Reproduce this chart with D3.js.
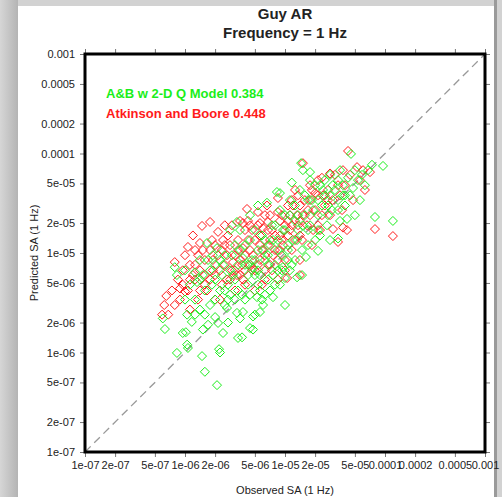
<!DOCTYPE html>
<html>
<head>
<meta charset="utf-8">
<script src="https://cdn.jsdelivr.net/npm/d3@7"></script>
<style>
body{margin:0;padding:0;overflow:hidden;}
svg{display:block;font-family:"Liberation Sans",Arial,sans-serif;}
</style>
</head>
<body>
<div id="plot"></div>
<script>
// tick values and labels for both log axes
var tickValues = [1e-7,2e-7,5e-7,1e-6,2e-6,5e-6,1e-5,2e-5,5e-5,1e-4,2e-4,5e-4,1e-3];
var tickLabels = ['1e-07','2e-07','5e-07','1e-06','2e-06','5e-06','1e-05','2e-05','5e-05','0.0001','0.0002','0.0005','0.001'];

var seriesNames = ['A&B w 2-D Q Model 0.384','Atkinson and Boore 0.448'];

// [observed, predicted] - Atkinson and Boore (red)
var redPoints = [
[5.9e-7,2.4e-6],[6.2e-7,3.0e-6],[6.8e-7,2.4e-6],[6.5e-7,3.7e-6],[7.4e-7,4.2e-6],[7.9e-7,3.0e-6],
[7.9e-7,8.1e-6],[8.5e-7,5.4e-6],[8.9e-7,4.4e-6],[8.9e-7,3.4e-6],[9.5e-7,6.7e-6],[1.0e-6,4.1e-6],
[1.0e-6,9.5e-6],[1.07e-6,1.15e-5],[1.12e-6,5.4e-6],[1.12e-6,2.7e-6],[1.2e-6,1.5e-5],[1.26e-6,7.6e-6],
[1.26e-6,1.07e-5],[1.35e-6,3.4e-6],[1.41e-6,1.26e-5],[1.41e-6,4.2e-6],[1.48e-6,1.87e-5],[1.58e-6,6.0e-6],
[1.58e-6,8.5e-6],[1.66e-6,4.2e-6],[1.78e-6,2.05e-5],[1.78e-6,1.07e-5],[1.78e-6,5.4e-6],[1.9e-6,8.5e-6],
[2.0e-6,3.4e-6],[2.0e-6,1.2e-5],[2.14e-6,1.63e-5],[2.24e-6,6.7e-6],[2.24e-6,3.4e-6],[2.34e-6,4.8e-6],
[2.5e-6,1.9e-5],[2.5e-6,7.6e-6],[2.63e-6,9.5e-6],[2.82e-6,1.2e-5],[2.82e-6,5.4e-6],[2.95e-6,6.7e-6],
[3.16e-6,4.2e-6],[3.16e-6,9.5e-6],[3.39e-6,1.35e-5],[3.55e-6,8.5e-6],[3.55e-6,6.0e-6],[3.8e-6,5.4e-6],
[3.98e-6,1.7e-5],[3.98e-6,6.7e-6],[4.17e-6,2.77e-5],[4.47e-6,1.07e-5],[4.68e-6,6.7e-6],[5.0e-6,1.35e-5],
[5.0e-6,4.2e-6],[5.37e-6,1.9e-5],[5.62e-6,8.5e-6],[5.62e-6,1.2e-5],[5.89e-6,4.8e-6],[6.3e-6,2.4e-5],
[6.3e-6,5.4e-6],[6.6e-6,3.0e-5],[6.76e-6,1.2e-5],[7.08e-6,7.6e-6],[7.08e-6,1.35e-5],[7.41e-6,1.7e-5],
[7.94e-6,1.07e-5],[7.94e-6,1.5e-5],[8.5e-6,3.57e-5],[8.9e-6,2.1e-5],[8.9e-6,1.07e-5],[9.3e-6,1.35e-5],
[1.0e-5,8.5e-6],[1.0e-5,1.9e-5],[1.0e-5,6.7e-6],[1.05e-5,5.6e-6],[1.07e-5,3.0e-5],[1.12e-5,1.7e-5],
[1.12e-5,2.4e-5],[1.17e-5,1.07e-5],[1.26e-5,4.3e-5],[1.26e-5,1.35e-5],[1.32e-5,2.4e-5],[1.41e-5,6.0e-6],
[1.41e-5,1.5e-5],[1.41e-5,3.0e-5],[1.51e-5,8.0e-5],[1.58e-5,3.4e-5],[1.66e-5,1.9e-5],[1.78e-5,4.8e-5],
[1.78e-5,3.4e-5],[1.86e-5,1.2e-5],[2.0e-5,2.7e-5],[2.14e-5,3.8e-5],[2.24e-5,1.7e-5],[2.34e-5,5.7e-5],
[2.5e-5,3.0e-5],[2.69e-5,4.3e-5],[2.82e-5,2.4e-5],[3.02e-5,1.74e-5],[3.16e-5,6.1e-5],[3.39e-5,1.29e-5],
[3.55e-5,3.8e-5],[3.72e-5,2.7e-5],[3.98e-5,4.8e-5],[4.17e-5,1.7e-5],[4.27e-5,1.06e-4],[4.47e-5,6.1e-5],
[4.79e-5,3.4e-5],[5.25e-5,7.3e-5],[5.62e-5,5.4e-5],[6.03e-5,6.8e-5],[6.3e-5,4.3e-5],[7.08e-5,6.5e-5],
[7.94e-5,1.74e-5],[1.2e-4,1.48e-5],[2.0e-6,6.0e-6],[4.47e-6,7.6e-6],[5.62e-6,1.5e-5],[8.9e-6,1.5e-5],
[1.41e-5,2.1e-5],[1.78e-5,2.4e-5],[2.5e-6,1.2e-5],[3.16e-6,6.7e-6],[3.98e-6,9.5e-6],[5.0e-6,6.7e-6],
[6.3e-6,9.5e-6],[1.26e-6,5.4e-6],[1.41e-6,6.7e-6],[3.55e-6,2.1e-5],[4.47e-6,1.9e-5],[7.08e-6,2.4e-5],
[1.17e-5,3.4e-5],[8.5e-6,2.58e-5],[5.62e-6,2.0e-5],[3.8e-6,2.0e-5],[2.82e-5,6.3e-5],[2.0e-5,4.0e-5],
[3.8e-5,1.8e-5],[1.41e-5,8.5e-6],[2.14e-6,9.5e-6],[2.69e-6,1.5e-5],[3.39e-6,1.07e-5],[4.27e-6,1.35e-5],
[5.37e-6,7.6e-6],[6.76e-6,1.7e-5],[8.5e-6,8.5e-6],[1.07e-5,1.5e-5],[1.35e-5,1.9e-5],[1.7e-5,2.7e-5],
[2.14e-5,1.9e-5],[2.69e-5,3.4e-5],[3.39e-5,4.8e-5],[1.86e-6,1.35e-5],[2.34e-6,1.07e-5],[2.95e-6,1.9e-5],
[3.72e-6,7.6e-6],[4.68e-6,1.7e-5],[5.89e-6,1.07e-5],[7.41e-6,6.7e-6],[9.3e-6,2.4e-5],[1.17e-5,1.9e-5],
[1.48e-5,1.35e-5],[1.86e-5,4.3e-5],[2.34e-5,2.4e-5],[1.12e-6,7.6e-6],[1.35e-6,9.5e-6],[1.07e-6,4.2e-6],
[1.58e-6,4.8e-6],[3.02e-6,8.1e-6],[3.8e-6,1.12e-5],[4.79e-6,9.5e-6],[6.03e-6,1.78e-5],[7.59e-6,9.5e-6],
[9.55e-6,1.2e-5],[1.2e-5,3.0e-5],[1.51e-5,2.4e-5],[1.91e-5,1.7e-5],[2.4e-5,3.8e-5],[3.0e-5,3.4e-5],
[3.8e-5,6.8e-5],[2.4e-6,1.35e-5],[1.9e-6,6.7e-6],[1.51e-6,1.07e-5],[1.2e-6,6.0e-6],[9.5e-7,4.8e-6],
[4.27e-6,2.1e-5],[5.37e-6,2.58e-5],[6.76e-6,2.05e-5],[1.07e-5,2.1e-5],[1.35e-5,3.8e-5],[2.14e-5,5.4e-5],
[3.98e-6,4.8e-6],[6.3e-6,6.7e-6],[8.5e-6,5.4e-6],[3.31e-6,6.0e-6],[2.63e-6,5.4e-6]
];

// [observed, predicted] - A&B w 2-D Q model (green)
var greenPoints = [
[6.0e-7,2.2e-6],[6.3e-7,1.72e-6],[7.9e-7,7.2e-6],[8.3e-7,6.0e-6],[8.3e-7,9.9e-7],[9.5e-7,1.57e-6],
[1.02e-6,1.6e-6],[1.05e-6,1.2e-6],[1.07e-6,1.11e-6],[1.48e-6,9.2e-7],[1.58e-6,6.4e-7],[2.09e-6,4.7e-7],
[2.19e-6,1.08e-6],[2.24e-6,1.0e-6],[2.4e-6,1.57e-6],[1.51e-6,1.7e-6],[1.17e-6,2.03e-6],[1.26e-6,2.4e-6],
[1.05e-6,2.4e-6],[1.58e-6,2.4e-6],[1.7e-6,1.9e-6],[2.0e-6,2.27e-6],[2.14e-6,1.98e-6],[2.69e-6,2.0e-6],
[2.63e-6,2.8e-6],[3.39e-6,1.4e-6],[5.25e-6,3.6e-6],[7.59e-6,3.6e-6],[1.0e-5,3.0e-6],[6.03e-6,3.0e-6],
[5.62e-6,2.55e-6],[5.0e-6,2.4e-6],[3.8e-6,2.55e-6],[3.55e-6,2.2e-6],[3.31e-6,2.5e-6],[4.79e-6,2.3e-6],
[4.47e-6,1.76e-6],[4.79e-6,1.7e-6],[3.72e-6,1.42e-6],[1.32e-5,5.7e-6],[1.48e-5,6.0e-6],[1.62e-5,9.1e-6],
[2.14e-5,1.05e-5],[1.0e-5,5.6e-6],[9.3e-6,6.7e-6],[7.59e-6,6.0e-6],[9.5e-6,7.2e-6],[1.0e-6,6.7e-6],
[1.26e-6,6.4e-6],[1.12e-6,4.8e-6],[1.32e-6,5.1e-6],[1.66e-6,1.26e-5],[2.09e-6,1.12e-5],[1.7e-6,8.5e-6],
[1.45e-5,8.0e-5],[1.51e-5,6.8e-5],[4.57e-5,9.9e-5],[7.41e-5,7.7e-5],[9.55e-5,7.5e-5],[6.76e-5,6.8e-5],
[7.94e-5,2.3e-5],[1.2e-4,2.1e-5],[3.55e-5,2.1e-5],[4.17e-5,2.2e-5],[3.39e-5,1.4e-5],[8.3e-6,4.1e-5],
[1.17e-5,5.1e-5],[1.41e-6,8.5e-6],[1.58e-6,4.2e-6],[1.78e-6,6.7e-6],[2.0e-6,5.4e-6],[2.24e-6,8.5e-6],
[2.5e-6,4.2e-6],[2.82e-6,6.7e-6],[2.95e-6,9.5e-6],[3.16e-6,5.4e-6],[3.55e-6,1.07e-5],[3.72e-6,3.8e-6],
[3.98e-6,7.6e-6],[4.27e-6,4.8e-6],[4.47e-6,1.35e-5],[4.68e-6,8.5e-6],[5.0e-6,6.0e-6],[5.37e-6,1.07e-5],
[5.62e-6,4.2e-6],[5.89e-6,1.5e-5],[6.3e-6,8.5e-6],[6.76e-6,5.4e-6],[7.08e-6,1.2e-5],[7.41e-6,1.9e-5],
[7.94e-6,7.6e-6],[8.5e-6,1.35e-5],[8.9e-6,2.7e-5],[9.3e-6,9.5e-6],[1.0e-5,1.7e-5],[1.07e-5,1.2e-5],
[1.12e-5,3.4e-5],[1.17e-5,7.6e-6],[1.26e-5,2.1e-5],[1.32e-5,1.35e-5],[1.41e-5,4.3e-5],[1.48e-5,1.07e-5],
[1.58e-5,2.4e-5],[1.7e-5,1.7e-5],[1.78e-5,5.4e-5],[1.86e-5,3.4e-5],[2.0e-5,1.35e-5],[2.14e-5,2.4e-5],
[2.24e-5,4.8e-5],[2.34e-5,3.0e-5],[2.5e-5,3.8e-5],[2.63e-5,1.9e-5],[2.82e-5,6.1e-5],[2.95e-5,2.7e-5],
[3.16e-5,4.3e-5],[3.39e-5,3.4e-5],[3.55e-5,6.8e-5],[3.8e-5,4.8e-5],[3.98e-5,3.0e-5],[4.27e-5,5.7e-5],
[4.47e-5,3.8e-5],[4.79e-5,4.5e-5],[5.0e-5,6.8e-5],[5.37e-5,5.4e-5],[5.62e-5,3.4e-5],[5.89e-5,6.1e-5],
[6.3e-5,4.8e-5],[3.98e-6,3.4e-6],[3.16e-6,3.4e-6],[2.5e-6,3.0e-6],[2.0e-6,3.4e-6],[1.78e-6,3.0e-6],
[2.82e-6,3.8e-6],[6.3e-6,3.8e-6],[7.94e-6,4.8e-6],[1.26e-6,3.4e-6],[1.0e-6,3.4e-6],[1.41e-6,2.7e-6],
[6.6e-6,3.2e-5],[5.37e-6,3.0e-5],[1.78e-5,6.5e-5],[8.9e-6,4.0e-5],[4.47e-6,2.4e-5],[3.55e-6,1.7e-5],
[2.82e-6,1.7e-5],[3.31e-6,2.05e-5],[1.12e-5,2.4e-5],[2.82e-5,1.35e-5],[5.0e-5,2.4e-5],
[1.86e-6,4.8e-6],[2.34e-6,6.0e-6],[2.69e-6,4.8e-6],[3.39e-6,7.6e-6],[4.27e-6,6.0e-6],[5.37e-6,4.8e-6],
[6.76e-6,7.6e-6],[8.5e-6,1.07e-5],[1.07e-5,8.5e-6],[1.35e-5,1.7e-5],[1.7e-5,1.2e-5],[2.14e-5,3.4e-5],
[2.69e-5,2.4e-5],[3.39e-5,2.7e-5],[2.0e-6,7.6e-6],[2.5e-6,9.5e-6],[3.16e-6,1.2e-5],[3.98e-6,1.2e-5],
[5.0e-6,8.5e-6],[6.3e-6,1.35e-5],[7.94e-6,1.9e-5],[1.0e-5,2.4e-5],[1.26e-5,3.0e-5],[1.58e-5,3.8e-5],
[2.0e-5,4.8e-5],[2.5e-5,5.4e-5],[7.08e-6,4.2e-6],[4.47e-6,3.8e-6],[2.24e-6,4.2e-6],[1.41e-6,5.4e-6],
[5.62e-6,6.0e-6],[8.9e-6,4.8e-6],[1.26e-5,8.5e-6],[1.78e-5,1.9e-5],[2.24e-5,1.5e-5],[2.82e-5,3.8e-5],
[3.98e-5,3.8e-5],[3.02e-6,6.0e-6],[3.8e-6,8.9e-6],[4.79e-6,7.1e-6],[6.03e-6,1.07e-5],[7.59e-6,1.35e-5],
[9.55e-6,1.7e-5],[1.2e-5,1.35e-5],[1.51e-5,1.9e-5],[1.91e-5,2.7e-5],[2.4e-5,4.3e-5],[3.0e-5,4.8e-5],
[3.8e-5,3.8e-5],[2.4e-6,7.6e-6],[1.9e-6,9.5e-6],[1.51e-6,6.0e-6],[4.27e-6,7.6e-6],[5.37e-6,6.7e-6],
[6.76e-6,9.5e-6],[8.5e-6,6.7e-6],[1.07e-5,1.07e-5],[1.35e-5,2.4e-5],[1.7e-5,3.4e-5],[2.14e-5,1.7e-5],
[2.69e-5,3.0e-5],[3.39e-5,5.4e-5],[3.39e-6,4.2e-6],[2.69e-6,3.4e-6],[5.89e-6,3.4e-6],[1.12e-5,6.7e-6],
[5.0e-6,1.7e-5]
];

var W = 502, H = 497;
var margin = {t:54,r:17,b:45,l:85};

var svg = d3.select('#plot')
	.append('svg')
	.attr('width',W)
	.attr('height',H);

// page backdrop
var defs = svg.append('defs');
var lg = defs.append('linearGradient').attr('id','leftShade').attr('x1',0).attr('x2',1).attr('y1',0).attr('y2',0);
lg.append('stop').attr('offset','0%').attr('stop-color','#d6d6d6');
lg.append('stop').attr('offset','100%').attr('stop-color','#b4b4b4');

svg.append('rect').attr('width',W).attr('height',H).attr('fill','#d2d2d2');
svg.append('rect').attr('width',18).attr('height',H).attr('fill','url(#leftShade)');
svg.append('rect').attr('x',494).attr('y',0).attr('width',3).attr('height',H).attr('fill','#9a9a9a');
svg.append('rect').attr('x',18).attr('y',6).attr('width',476).attr('height',H-6).attr('fill','#ffffff');

var x = d3.scaleLog().domain([1e-7,1e-3]).range([margin.l, W-margin.r]);
var y = d3.scaleLog().domain([1e-7,1e-3]).range([H-margin.b, margin.t]);

function fmt(d){ return tickLabels[tickValues.indexOf(d)]; }

var bottomAxis = svg.append('g')
	.attr('transform','translate(0,'+(H-margin.b)+')')
	.call(d3.axisBottom(x).tickValues(tickValues).tickFormat(fmt).tickSize(5).tickPadding(4));
var leftAxis = svg.append('g')
	.attr('transform','translate('+margin.l+',0)')
	.call(d3.axisLeft(y).tickValues(tickValues).tickFormat(fmt).tickSize(5).tickPadding(5));
var topAxis = svg.append('g')
	.attr('transform','translate(0,'+margin.t+')')
	.call(d3.axisTop(x).tickValues(tickValues).tickFormat('').tickSize(5));
var rightAxis = svg.append('g')
	.attr('transform','translate('+(W-margin.r)+',0)')
	.call(d3.axisRight(y).tickValues(tickValues).tickFormat('').tickSize(5));

[bottomAxis,leftAxis,topAxis,rightAxis].forEach(function(a){
	a.select('.domain').remove();
	a.selectAll('line').attr('stroke','#777').attr('stroke-width',1);
	a.selectAll('text').attr('fill','#222').attr('font-size',11).attr('font-family','"Liberation Sans",Arial,sans-serif');
});

// 1:1 reference line
svg.append('line')
	.attr('x1',x(1e-7)).attr('y1',y(1e-7))
	.attr('x2',x(1e-3)).attr('y2',y(1e-3))
	.attr('stroke','#999')
	.attr('stroke-width',1.3)
	.attr('stroke-dasharray','8,5');

var diamond = 'M0,-4.5L4.5,0L0,4.5L-4.5,0Z';

svg.append('g').selectAll('path')
	.data(redPoints)
	.enter()
	.append('path')
	.attr('d',diamond)
	.attr('transform',function(d){ return 'translate('+x(d[0])+','+y(d[1])+')'; })
	.attr('fill','none')
	.attr('stroke','#ff1a1a')
	.attr('stroke-width',1);

svg.append('g').selectAll('path')
	.data(greenPoints)
	.enter()
	.append('path')
	.attr('d',diamond)
	.attr('transform',function(d){ return 'translate('+x(d[0])+','+y(d[1])+')'; })
	.attr('fill','none')
	.attr('stroke','#1aee1a')
	.attr('stroke-width',1);

// frame
svg.append('rect')
	.attr('x',margin.l).attr('y',margin.t)
	.attr('width',W-margin.r-margin.l)
	.attr('height',H-margin.b-margin.t)
	.attr('fill','none')
	.attr('stroke','#000')
	.attr('stroke-width',3);

// titles
var cx = (margin.l + W - margin.r)/2;
svg.append('text').attr('x',cx).attr('y',19).attr('text-anchor','middle')
	.attr('font-size',15).attr('font-weight','bold').attr('fill','#222').text('Guy AR');
svg.append('text').attr('x',cx).attr('y',38).attr('text-anchor','middle')
	.attr('font-size',15).attr('font-weight','bold').attr('fill','#222').text('Frequency = 1 Hz');

// legend
svg.append('text').attr('x',106).attr('y',98)
	.attr('font-size',13).attr('font-weight','bold').attr('fill','#1aee1a').text(seriesNames[0]);
svg.append('text').attr('x',106).attr('y',118)
	.attr('font-size',13).attr('font-weight','bold').attr('fill','#ff1a1a').text(seriesNames[1]);

// axis titles
svg.append('text').attr('x',cx).attr('y',494).attr('text-anchor','middle')
	.attr('font-size',11).attr('fill','#222').text('Observed SA (1 Hz)');
svg.append('text')
	.attr('transform','translate(38,'+((margin.t+H-margin.b)/2)+') rotate(-90)')
	.attr('text-anchor','middle')
	.attr('font-size',11).attr('fill','#222').text('Predicted SA (1 Hz)');
</script>
</body>
</html>
